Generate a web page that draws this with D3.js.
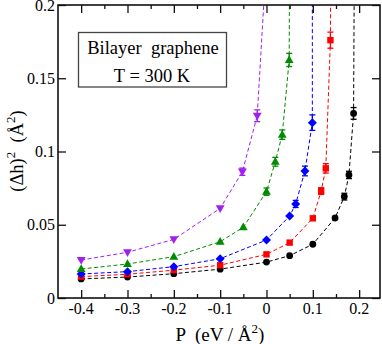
<!DOCTYPE html>
<html>
<head>
<meta charset="utf-8">
<script src="https://cdn.jsdelivr.net/npm/d3@7"></script>
<style>
  body { margin: 0; background: #fff; }
  svg { display: block; }
  svg text { font-family: "Liberation Serif", "Times New Roman", Times, "DejaVu Serif", serif; }
</style>
</head>
<body>
<svg id="chart" width="382" height="344"></svg>
<script>
// values, P in eV/Å^2, (dh)^2 in Å^2
var xTicks = [-0.4, -0.3, -0.2, -0.1, 0, 0.1, 0.2];
var xMinor = [-0.35, -0.25, -0.15, -0.05, 0.05, 0.15];
var yTicks = [0, 0.05, 0.1, 0.15, 0.2];

var blackP   = [-0.4, -0.3, -0.2, -0.1, 0, 0.05, 0.1, 0.148, 0.168, 0.178, 0.188, 0.19];
var blackV   = [0.013, 0.0143, 0.0166, 0.0197, 0.0245, 0.0289, 0.0367, 0.0546, 0.0692, 0.084, 0.126, 0.26];
var blackErr = [0, 0, 0, 0, 0, 0, 0, 0, 0.0023, 0.0025, 0.004, 0];

var redP   = [-0.4, -0.3, -0.2, -0.1, 0, 0.05, 0.1, 0.118, 0.128, 0.138, 0.139];
var redV   = [0.0146, 0.0162, 0.019, 0.0224, 0.0298, 0.0378, 0.0544, 0.073, 0.0885, 0.176, 0.26];
var redErr = [0, 0, 0, 0, 0, 0, 0, 0.0023, 0.0032, 0.0055, 0];

var blueP   = [-0.4, -0.3, -0.2, -0.1, 0, 0.05, 0.063, 0.083, 0.099, 0.099];
var blueV   = [0.0164, 0.018, 0.0214, 0.0268, 0.0396, 0.056, 0.0642, 0.0867, 0.1197, 0.26];
var blueErr = [0, 0, 0, 0, 0, 0, 0.0024, 0.0033, 0.0053, 0];

var greenP   = [-0.4, -0.3, -0.2, -0.1, -0.05, 0, 0.019, 0.034, 0.049, 0.05];
var greenV   = [0.0198, 0.0232, 0.0282, 0.0384, 0.0483, 0.0726, 0.093, 0.1115, 0.1625, 0.26];
var greenErr = [0, 0, 0, 0, 0, 0.0025, 0.003, 0.0032, 0.0045, 0];

var purpleP   = [-0.4, -0.3, -0.2, -0.1, -0.052, -0.02, 0];
var purpleV   = [0.0259, 0.0312, 0.040, 0.0612, 0.0862, 0.1244, 0.232];
var purpleErr = [0, 0, 0, 0, 0.0025, 0.004, 0];

function pack(P, V, E) {
  return P.map(function(p, i) { return { p: p, v: V[i], e: E[i] }; });
}

var series = [
  { color: "#000000", shape: "circle",   data: pack(blackP, blackV, blackErr) },
  { color: "#ff0000", shape: "square",   data: pack(redP, redV, redErr) },
  { color: "#0000ff", shape: "diamond",  data: pack(blueP, blueV, blueErr) },
  { color: "#008b00", shape: "triUp",    data: pack(greenP, greenV, greenErr) },
  { color: "#a020f0", shape: "triDown",  data: pack(purpleP, purpleV, purpleErr) }
];

var svg = d3.select("#chart");
var plotL = 58, plotR = 380, plotT = 5, plotB = 298;

var x = d3.scaleLinear().domain([-0.45, 0.245]).range([plotL, plotR]);
var y = d3.scaleLinear().domain([0, 0.2]).range([plotB, plotT]);

svg.append("clipPath").attr("id", "plotclip")
  .append("rect")
  .attr("x", plotL).attr("y", plotT)
  .attr("width", plotR - plotL).attr("height", plotB - plotT);

var plot = svg.append("g").attr("clip-path", "url(#plotclip)");

var line = d3.line().x(function(d) { return x(d.p); }).y(function(d) { return y(d.v); });

var symbols = {
  circle:  function(g) { return g.append("circle").attr("r", 3.4); },
  square:  function(g) { return g.append("rect").attr("x", -3.2).attr("y", -3.2).attr("width", 6.4).attr("height", 6.4); },
  diamond: function(g) { return g.append("path").attr("d", "M0,-4.5L4.5,0L0,4.5L-4.5,0Z"); },
  triUp:   function(g) { return g.append("path").attr("d", "M0,-4.7L4.4,3.1L-4.4,3.1Z"); },
  triDown: function(g) { return g.append("path").attr("d", "M0,4.7L4.4,-3.1L-4.4,-3.1Z"); }
};

series.forEach(function(s) {
  plot.append("path")
    .datum(s.data)
    .attr("d", line)
    .attr("fill", "none")
    .attr("stroke", s.color)
    .attr("stroke-width", 1)
    .attr("stroke-dasharray", "4,2.5");

  var pts = s.data.filter(function(d) { return d.v <= 0.2; });

  // error bars
  var eb = plot.selectAll(null).data(pts.filter(function(d) { return d.e > 0; }))
    .enter().append("g")
    .attr("stroke", s.color)
    .attr("stroke-width", 1.3);
  eb.append("line")
    .attr("x1", function(d) { return x(d.p); }).attr("x2", function(d) { return x(d.p); })
    .attr("y1", function(d) { return y(d.v - d.e); }).attr("y2", function(d) { return y(d.v + d.e); });
  eb.append("line")
    .attr("x1", function(d) { return x(d.p) - 3; }).attr("x2", function(d) { return x(d.p) + 3; })
    .attr("y1", function(d) { return y(d.v + d.e); }).attr("y2", function(d) { return y(d.v + d.e); });
  eb.append("line")
    .attr("x1", function(d) { return x(d.p) - 3; }).attr("x2", function(d) { return x(d.p) + 3; })
    .attr("y1", function(d) { return y(d.v - d.e); }).attr("y2", function(d) { return y(d.v - d.e); });

  var m = plot.selectAll(null).data(pts).enter().append("g")
    .attr("transform", function(d) { return "translate(" + x(d.p) + "," + y(d.v) + ")"; });
  symbols[s.shape](m).attr("fill", s.color);
});

// frame and ticks (inward, on all four sides like the original)
var axisColor = "#111";
var fmt = function(d) { return d === 0 ? "0" : String(d); };

svg.append("g").attr("transform", "translate(0," + plotB + ")")
  .call(d3.axisBottom(x).tickValues(xTicks).tickSize(-8).tickFormat(""));
svg.append("g").attr("transform", "translate(0," + plotB + ")")
  .call(d3.axisBottom(x).tickValues(xMinor).tickSize(-4).tickFormat(""));
svg.append("g").attr("transform", "translate(0," + plotT + ")")
  .call(d3.axisTop(x).tickValues(xTicks).tickSize(-8).tickFormat(""));
svg.append("g").attr("transform", "translate(0," + plotT + ")")
  .call(d3.axisTop(x).tickValues(xMinor).tickSize(-4).tickFormat(""));
svg.append("g").attr("transform", "translate(" + plotL + ",0)")
  .call(d3.axisLeft(y).tickValues(yTicks).tickSize(-8).tickFormat(""));
svg.append("g").attr("transform", "translate(" + plotR + ",0)")
  .call(d3.axisRight(y).tickValues(yTicks).tickSize(-8).tickFormat(""));

svg.selectAll(".domain").remove();
svg.selectAll(".tick line").attr("stroke", axisColor).attr("stroke-width", 1.3);

svg.append("rect")
  .attr("x", plotL).attr("y", plotT)
  .attr("width", plotR - plotL).attr("height", plotB - plotT)
  .attr("fill", "none").attr("stroke", axisColor).attr("stroke-width", 1.6);

// tick labels
svg.selectAll(".xlab").data(xTicks).enter().append("text")
  .attr("x", function(d) { return x(d); })
  .attr("y", plotB + 16)
  .attr("text-anchor", "middle")
  .attr("font-size", 16)
  .text(fmt);

svg.selectAll(".ylab").data(yTicks).enter().append("text")
  .attr("x", plotL - 3)
  .attr("y", function(d) { return y(d) + 5.5; })
  .attr("text-anchor", "end")
  .attr("font-size", 16)
  .text(fmt);

// axis titles
var xt = svg.append("text")
  .attr("x", 220).attr("y", 341)
  .attr("text-anchor", "middle")
  .attr("font-size", 19)
  .attr("xml:space", "preserve");
xt.append("tspan").text("P  (eV / Å");
xt.append("tspan").attr("font-size", 13).attr("dy", -8).text("2");
xt.append("tspan").attr("dy", 8).text(")");

var yt = svg.append("text")
  .attr("transform", "translate(22.5,151) rotate(-90)")
  .attr("text-anchor", "middle")
  .attr("font-size", 18.5)
  .attr("xml:space", "preserve");
yt.append("tspan").text("(Δh)");
yt.append("tspan").attr("font-size", 13).attr("dy", -8).text("2");
yt.append("tspan").attr("dy", 8).text("  (Å");
yt.append("tspan").attr("font-size", 13).attr("dy", -8).text("2");
yt.append("tspan").attr("dy", 8).text(")");

// annotation box
svg.append("rect")
  .attr("x", 78.5).attr("y", 32.5).attr("width", 148).attr("height", 54.5)
  .attr("fill", "#fff").attr("stroke", "#444").attr("stroke-width", 1.3);
svg.append("text")
  .attr("x", 153).attr("y", 54)
  .attr("text-anchor", "middle").attr("font-size", 18.5)
  .attr("xml:space", "preserve")
  .text("Bilayer  graphene");
svg.append("text")
  .attr("x", 152).attr("y", 82)
  .attr("text-anchor", "middle").attr("font-size", 18.5)
  .text("T = 300 K");
</script>
</body>
</html>
